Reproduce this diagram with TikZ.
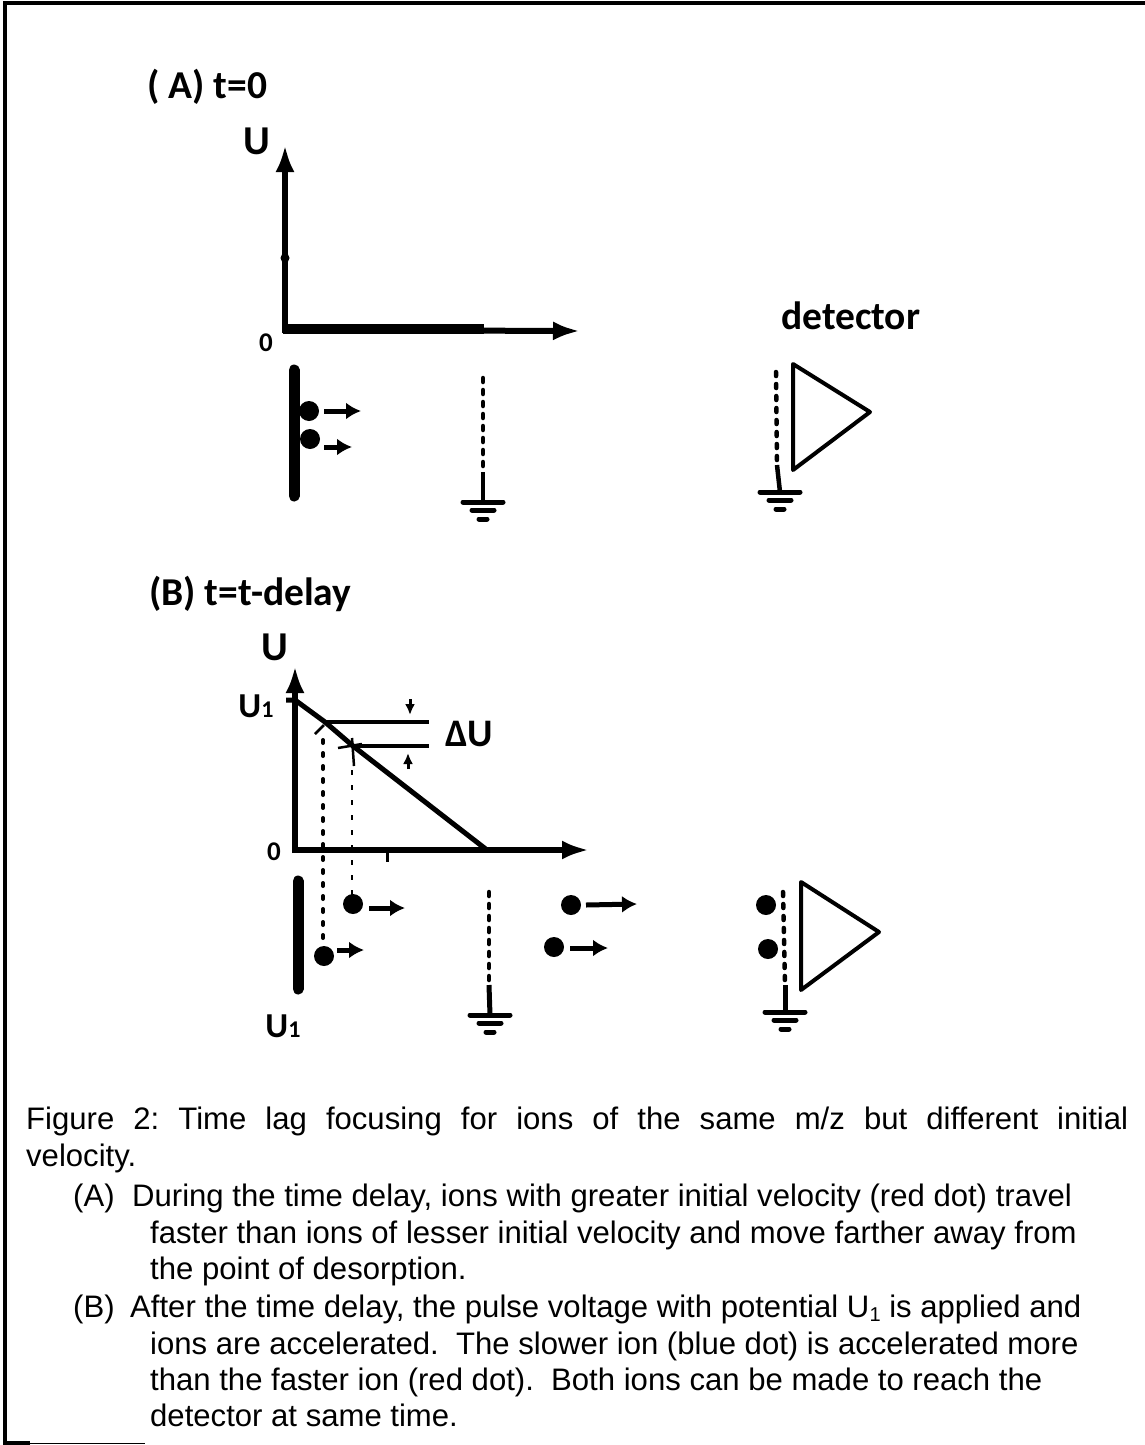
\documentclass[tikz,border=0pt]{standalone}
\usepackage{fontspec}
\setmainfont{Liberation Sans}
\newfontfamily\labelfont{Carlito}
\usetikzlibrary{arrows.meta,calc,positioning}
\tikzset{
  heading/.style={font=\labelfont\bfseries\fontsize{39.5}{44}\selectfont,inner sep=0pt,anchor=west},
  axisname/.style={font=\labelfont\bfseries\fontsize{41}{44}\selectfont,inner sep=0pt},
  voltname/.style={font=\labelfont\bfseries\fontsize{35}{38}\selectfont,inner sep=0pt},
  zerotick/.style={font=\labelfont\bfseries\fontsize{27}{30}\selectfont,inner sep=0pt},
  captiontext/.style={font=\fontsize{31.1}{36.3}\selectfont\frenchspacing,inner sep=0pt,anchor=north west,align=left},
  axisline/.style={line width=6pt,-{Latex[length=27pt,width=19pt]}},
  plateline/.style={line width=11pt,line cap=round},
  gridline/.style={line width=4.5pt,dash pattern=on 4pt off 8pt,line cap=round},
  ion/.style={circle,fill=black,minimum size=20pt,inner sep=0pt},
  ionarrow/.style={line width=5pt,-{Latex[length=15pt,width=17pt]}},
  detectorbox/.style={line width=4pt,line join=round},
  groundbar/.style={line width=5pt,line cap=round},
  droplineA/.style={line width=4pt,dash pattern=on 3pt off 10pt,line cap=round},
  droplineB/.style={line width=2.5pt,dash pattern=on 5pt off 10pt},
}
\newcommand{\groundmark}[1]{%
  \draw[groundbar] ($(#1)+(-20,0)$) -- ($(#1)+(20,0)$);
  \draw[groundbar] ($(#1)+(-11,8)$) -- ($(#1)+(11,8)$);
  \draw[groundbar] ($(#1)+(-4,17)$) -- ($(#1)+(4,17)$);
}
\newcommand{\smallone}{{\fontsize{24}{24}\selectfont 1}}
\begin{document}
\begin{tikzpicture}[x=1pt,y=-1pt]
  \useasboundingbox (0,0) rectangle (1145,1445);
  % frame
  \draw[line width=4pt] (30,1443) -- (5,1443) -- (5,3) -- (1145,3);
  \draw[line width=1pt] (30,1443.5) -- (145,1443.5);

  % part A
  \node[heading] (headA) at (147,87) {( A) t=0};
  \coordinate (originA) at (285,330);
  \node[axisname] (nameUA) at (257,141) {U};
  \node[zerotick] (zeroA) at (266,343) {0};
  \draw[axisline] (285,333) -- (285,145);
  \draw[axisline] (originA) -- (580,331);
  \draw[line width=10pt] (283,329) -- (484,329);
  \fill (285,258) circle (4.5pt);
  \node[heading] (labelDet) at (781,316) {detector};
  \draw[plateline] (294,370) -- (294,496);
  \node[ion] (ionA1) at (309,411) {};
  \node[ion] (ionA2) at (310,439) {};
  \coordinate (tipA1) at (361,411);
  \coordinate (tipA2) at (352,447);
  \draw[ionarrow] (324,411) -- (tipA1);
  \draw[ionarrow] (324,447) -- (tipA2);
  \coordinate (gridA) at (483,502);
  \draw[gridline] (483,378) -- (483,472);
  \draw[line width=4.5pt] (483,472) -- (gridA);
  \groundmark{gridA}
  \coordinate (gridDetA) at (780,492);
  \draw[gridline] (776,372) -- (777,465);
  \draw[line width=4.5pt] (777,465) -- (gridDetA);
  \groundmark{gridDetA}
  \draw[detectorbox] (793,364) -- (870,412) -- (793,470) -- cycle;

  % part B
  \node[heading] (headB) at (149,594) {(B) t=t-delay};
  \coordinate (originB) at (295,850);
  \node[axisname] (nameUB) at (275,647) {U};
  \node[voltname] (nameU1) at (256,706) {U\smallone};
  \node[zerotick] (zeroB) at (274,852) {0};
  \draw[axisline] (295,853) -- (295,666);
  \draw[axisline] (originB) -- (589,850);
  \coordinate (crossOne) at (325,722);
  \coordinate (crossTwo) at (353,746);
  \draw[line width=5pt] (286,700) -- (295,700) -- (crossOne) -- (crossTwo) -- (487,850);
  \draw[line width=4pt] (crossOne) -- (429,722);
  \draw[line width=4pt] (crossTwo) -- (429,746);
  \draw[line width=2.5pt] (315,734) -- (324,725) (338,748) -- (362,744) (352,738) -- (354,766);
  \draw[line width=3pt,-{Latex[length=11pt,width=10pt]}] (410,699) -- (410,715);
  \draw[line width=3pt,-{Latex[length=11pt,width=10pt]}] (408,769) -- (408,753);
  \node[voltname,font=\labelfont\bfseries\fontsize{39}{42}\selectfont] (nameDelta) at (469,734) {ΔU};
  \draw[line width=3pt] (387,850) -- (387,862);
  \draw[droplineA] (323,740) -- (323,942);
  \draw[droplineB] (352,770) -- (352,895);
  \draw[plateline] (298,881) -- (298,989);
  \node[voltname] (labelU1) at (283,1026) {U\smallone};
  \node[ion] (ionB1) at (353,904) {};
  \node[ion] (ionB2) at (324,956) {};
  \node[ion] (ionB3) at (571,905) {};
  \node[ion] (ionB4) at (554,947) {};
  \node[ion] (ionB5) at (766,905) {};
  \node[ion] (ionB6) at (768,949) {};
  \coordinate (tipB1) at (405,908);
  \coordinate (tipB2) at (364,950);
  \coordinate (tipB3) at (637,904);
  \coordinate (tipB4) at (608,948);
  \draw[ionarrow] (369,908) -- (tipB1);
  \draw[ionarrow] (337,950) -- (tipB2);
  \draw[ionarrow] (586,905) -- (tipB3);
  \draw[ionarrow] (570,948) -- (tipB4);
  \coordinate (gridB) at (490,1015);
  \draw[gridline] (489,892) -- (489,985);
  \draw[line width=5pt] (489,985) -- (gridB);
  \groundmark{gridB}
  \coordinate (gridDetB) at (785,1012);
  \draw[gridline] (783,892) -- (785,985);
  \draw[line width=5pt] (785,985) -- (gridDetB);
  \groundmark{gridDetB}
  \draw[detectorbox] (801,882) -- (879,932) -- (801,990) -- cycle;

  % caption
  \node[captiontext,align=justify,text width=1102pt] (captionHead) at (26,1107)
    {Figure 2: Time lag focusing for ions of the same m/z but different initial\linebreak velocity.};
  \node[captiontext] (captionA) at (73,1184)
    {\makebox[59pt][l]{(A)}During the time delay, ions with greater initial velocity (red dot) travel\\
     \hspace*{77pt}faster than ions of lesser initial velocity and move farther away from\\
     \hspace*{77pt}the point of desorption.};
  \node[captiontext] (captionB) at (73,1295)
    {\makebox[57pt][l]{(B)}After the time delay, the pulse voltage with potential U\raisebox{-4pt}{\fontsize{20}{20}\selectfont 1} is applied and\\
     \hspace*{77pt}ions are accelerated.\ \ The slower ion (blue dot) is accelerated more\\
     \hspace*{77pt}than the faster ion (red dot).\ \ Both ions can be made to reach the\\
     \hspace*{77pt}detector at same time.};
\end{tikzpicture}
\end{document}
